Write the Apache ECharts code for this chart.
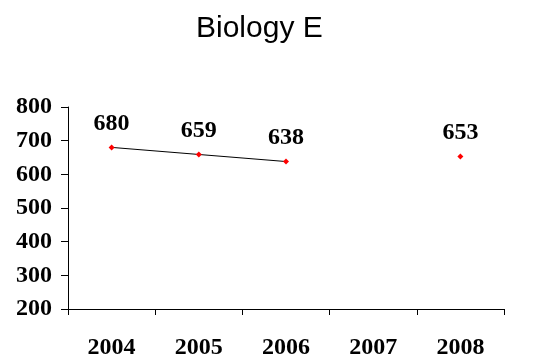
<!DOCTYPE html>
<html>
<head>
<meta charset="utf-8">
<script src="https://cdn.jsdelivr.net/npm/echarts@6/dist/echarts.min.js"></script>
<style>html,body{margin:0;padding:0;background:#fff}#c{width:560px;height:360px}</style>
</head>
<body>
<div id="c"></div>
<script>
var titleText = 'Biology E';
var categories = ['2004', '2005', '2006', '2007', '2008'];
var scores = [680, 659, 638, null, 653];
var yTicks = {min: 200, max: 800, step: 100};

var chart = echarts.init(document.getElementById('c'), null, {renderer: 'canvas'});
var serif = '"Liberation Serif", "Times New Roman", serif';
chart.setOption({
  animation: false,
  backgroundColor: '#ffffff',
  title: {
    text: titleText,
    left: 191,
    top: 9,
    textStyle: {fontFamily: '"Liberation Sans", Arial, sans-serif', fontWeight: 'normal', fontSize: 30, color: '#000'}
  },
  grid: {left: 68, right: 56, top: 107, bottom: 49},
  xAxis: {
    type: 'category',
    data: categories,
    boundaryGap: true,
    axisLine: {show: true, lineStyle: {color: '#000', width: 1}},
    axisTick: {show: true, length: 6, alignWithLabel: false, lineStyle: {color: '#000'}},
    axisLabel: {margin: 27, fontFamily: serif, fontWeight: 'bold', fontSize: 24, color: '#000'},
    splitLine: {show: false}
  },
  yAxis: {
    type: 'value',
    min: yTicks.min,
    max: yTicks.max,
    interval: yTicks.step,
    axisLine: {show: true, lineStyle: {color: '#000', width: 1}},
    axisTick: {show: true, length: 7, lineStyle: {color: '#000'}},
    axisLabel: {margin: 16, fontFamily: serif, fontWeight: 'bold', fontSize: 24, color: '#000', padding: [8, 0, 0, 0]},
    splitLine: {show: false}
  },
  series: [{
    type: 'line',
    data: scores,
    connectNulls: false,
    symbol: 'diamond',
    symbolSize: 6,
    showAllSymbol: true,
    itemStyle: {color: '#ff0000', borderWidth: 0},
    lineStyle: {color: '#000', width: 1},
    label: {
      show: true,
      position: 'top',
      distance: 9,
      fontFamily: serif,
      fontWeight: 'bold',
      fontSize: 24,
      color: '#000'
    }
  }]
});
</script>
</body>
</html>
